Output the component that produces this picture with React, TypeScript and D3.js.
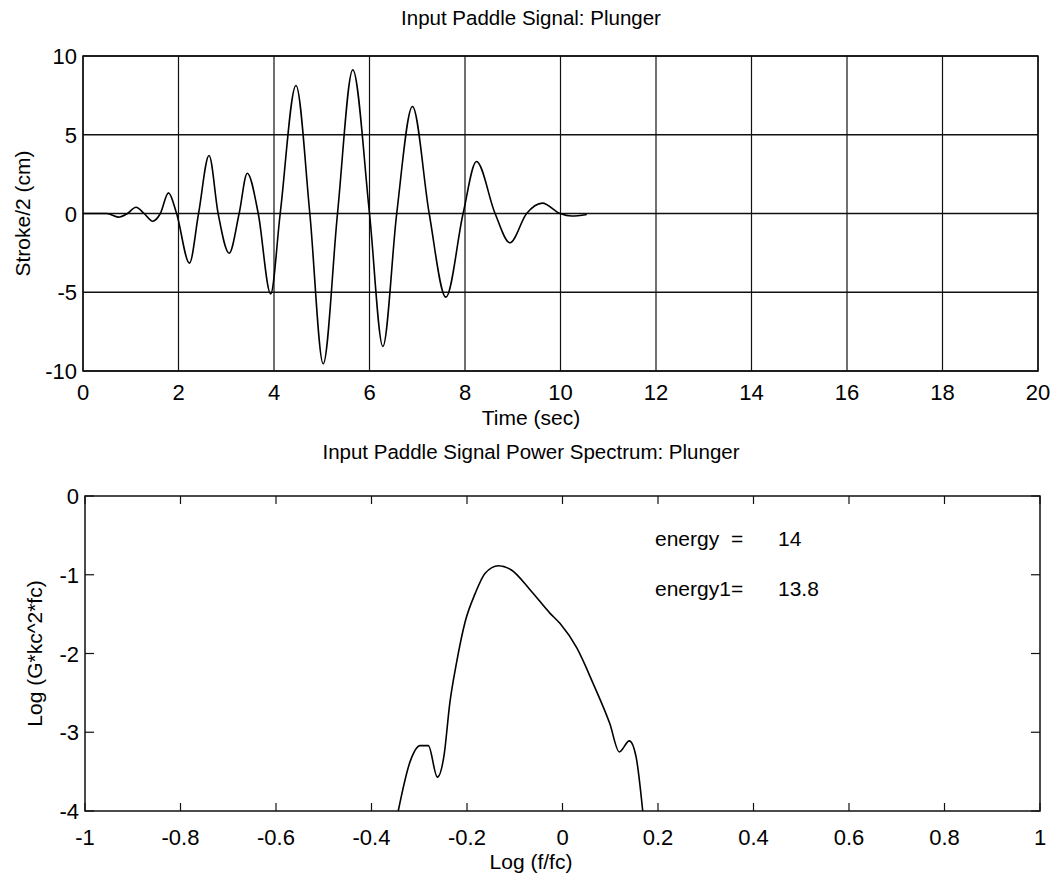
import React from "react";
import * as d3 from "d3";

// ---- Top panel: paddle stroke time series ----
const timeSec = [0, 0.5, 0.74, 0.93, 1.11, 1.28, 1.46, 1.62, 1.79, 1.96, 2.23, 2.42, 2.64, 2.83, 3.06, 3.27, 3.44, 3.67, 3.93, 4.13, 4.46, 4.75, 5.03, 5.33, 5.65, 6.0, 6.28, 6.57, 6.9, 7.25, 7.6, 7.96, 8.24, 8.63, 8.94, 9.29, 9.62, 9.99, 10.23, 10.55];
const strokeCm = [0, 0, -0.23, 0, 0.4, 0, -0.49, 0, 1.31, 0, -3.15, 0, 3.68, 0, -2.52, 0, 2.56, 0, -5.1, 0, 8.13, 0, -9.54, 0, 9.12, 0, -8.44, 0, 6.79, 0, -5.31, 0, 3.3, 0, -1.86, 0, 0.66, 0, -0.16, -0.06];
const timeTicks = [0, 2, 4, 6, 8, 10, 12, 14, 16, 18, 20];
const strokeTicks = [-10, -5, 0, 5, 10];

// ---- Bottom panel: power spectrum ----
const logF = [-0.344, -0.319, -0.298, -0.281, -0.262, -0.248, -0.236, -0.222, -0.204, -0.183, -0.162, -0.134, -0.107, -0.068, -0.026, -0.005, 0.03, 0.064, 0.099, 0.119, 0.14, 0.154, 0.168];
const logG = [-4.0, -3.37, -3.17, -3.17, -3.57, -3.29, -2.63, -2.12, -1.6, -1.24, -0.98, -0.885, -0.94, -1.19, -1.49, -1.62, -1.93, -2.38, -2.89, -3.25, -3.11, -3.31, -4.0];
const freqTicks = [-1, -0.8, -0.6, -0.4, -0.2, 0, 0.2, 0.4, 0.6, 0.8, 1];
const freqTickLabels = ["-1", "-0.8", "-0.6", "-0.4", "-0.2", "0", "0.2", "0.4", "0.6", "0.8", "1"];
const specTicks = [-4, -3, -2, -1, 0];

const energyLabels = ["energy  =", "energy1="];
const energyValues = ["14", "13.8"];

const FONT = "'Liberation Sans', Arial, Helvetica, sans-serif";
const FS_TITLE = 20.5;
const FS_TICK = 22;
const FS_LABEL = 21;

export default function App() {
  // top panel scales
  const x1 = d3.scaleLinear().domain([0, 20]).range([83, 1038]);
  const y1 = d3.scaleLinear().domain([-10, 10]).range([371, 56]);
  // bottom panel scales
  const x2 = d3.scaleLinear().domain([-1, 1]).range([85, 1040]);
  const y2 = d3.scaleLinear().domain([-4, 0]).range([811, 496]);

  const line1 = d3
    .line<number>()
    .x((_, i) => x1(timeSec[i]))
    .y((d) => y1(d))
    .curve(d3.curveMonotoneX);
  const line2 = d3
    .line<number>()
    .x((_, i) => x2(logF[i]))
    .y((d) => y2(d))
    .curve(d3.curveMonotoneX);

  const midX = 531;

  return (
    <svg
      width={1060}
      height={886}
      style={{ position: "absolute", left: 0, top: 0, background: "#fff" }}
      fontFamily={FONT}
    >
      <rect x={0} y={0} width={1060} height={886} fill="#fff" />

      {/* ===== Top panel ===== */}
      <text x={midX} y={25} textAnchor="middle" fontSize={FS_TITLE}>Input Paddle Signal: Plunger</text>
      {timeTicks.map((t) => (
        <line key={"gx" + t} x1={x1(t)} x2={x1(t)} y1={y1(-10)} y2={y1(10)} stroke="#111" strokeWidth={1.2} />
      ))}
      {strokeTicks.map((v) => (
        <line key={"gy" + v} x1={x1(0)} x2={x1(20)} y1={y1(v)} y2={y1(v)} stroke="#111" strokeWidth={1.4} />
      ))}
      <rect x={x1(0)} y={y1(10)} width={x1(20) - x1(0)} height={y1(-10) - y1(10)} fill="none" stroke="#111" strokeWidth={1.5} />
      <path d={line1(strokeCm) || ""} fill="none" stroke="#000" strokeWidth={1.6} />
      {timeTicks.map((t) => (
        <text key={"tx" + t} x={x1(t)} y={400} textAnchor="middle" fontSize={FS_TICK}>{t}</text>
      ))}
      {strokeTicks.map((v) => (
        <text key={"ty" + v} x={77} y={y1(v) + 8} textAnchor="end" fontSize={FS_TICK}>{v}</text>
      ))}
      <text x={midX} y={425} textAnchor="middle" fontSize={FS_LABEL}>Time (sec)</text>
      <text transform={`translate(30, ${y1(0)}) rotate(-90)`} textAnchor="middle" fontSize={FS_LABEL}>Stroke/2 (cm)</text>

      {/* ===== Bottom panel ===== */}
      <text x={midX} y={459} textAnchor="middle" fontSize={FS_TITLE}>Input Paddle Signal Power Spectrum: Plunger</text>
      <rect x={x2(-1)} y={y2(0)} width={x2(1) - x2(-1)} height={y2(-4) - y2(0)} fill="none" stroke="#111" strokeWidth={1.5} />
      {freqTicks.map((f) => (
        <g key={"fx" + f}>
          <line x1={x2(f)} x2={x2(f)} y1={y2(0)} y2={y2(0) + 8} stroke="#111" strokeWidth={1.2} />
          <line x1={x2(f)} x2={x2(f)} y1={y2(-4)} y2={y2(-4) - 8} stroke="#111" strokeWidth={1.2} />
        </g>
      ))}
      {specTicks.map((v) => (
        <g key={"fy" + v}>
          <line x1={x2(-1)} x2={x2(-1) + 9} y1={y2(v)} y2={y2(v)} stroke="#111" strokeWidth={1.2} />
          <line x1={x2(1)} x2={x2(1) - 9} y1={y2(v)} y2={y2(v)} stroke="#111" strokeWidth={1.2} />
        </g>
      ))}
      <path d={line2(logG) || ""} fill="none" stroke="#000" strokeWidth={1.6} />
      {freqTicks.map((f, i) => (
        <text key={"fl" + f} x={x2(f)} y={845} textAnchor="middle" fontSize={FS_TICK}>{freqTickLabels[i]}</text>
      ))}
      {specTicks.map((v) => (
        <text key={"sl" + v} x={79} y={y2(v) + 8} textAnchor="end" fontSize={FS_TICK}>{v}</text>
      ))}
      <text x={midX} y={869} textAnchor="middle" fontSize={FS_LABEL}>Log (f/fc)</text>
      <text transform={`translate(42, ${y2(-2)}) rotate(-90)`} textAnchor="middle" fontSize={FS_LABEL}>Log (G*kc^2*fc)</text>

      {energyLabels.map((lab, i) => (
        <g key={"en" + i} fontSize={FS_LABEL}>
          <text x={655} y={546 + i * 50} xmlSpace="preserve" style={{ whiteSpace: "pre" }}>{lab}</text>
          <text x={778} y={546 + i * 50}>{energyValues[i]}</text>
        </g>
      ))}
    </svg>
  );
}
